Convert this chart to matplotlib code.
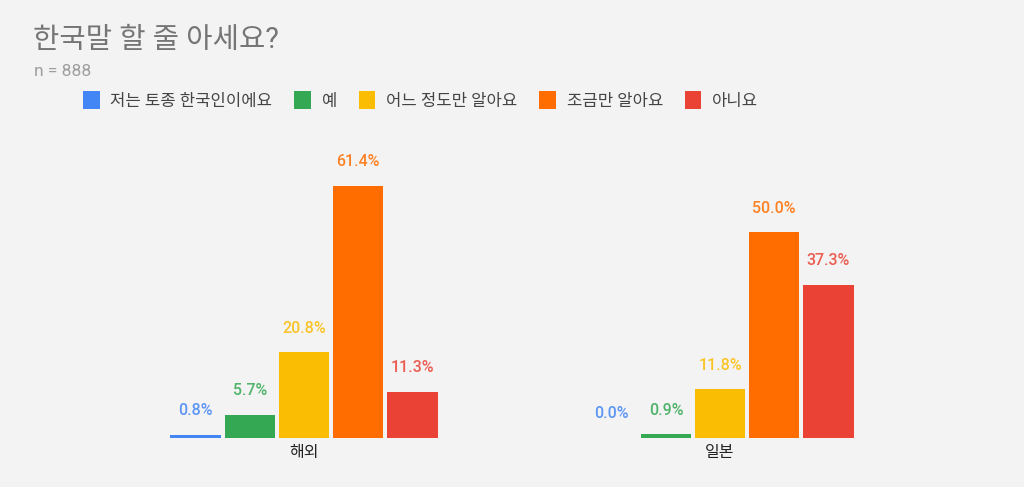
import numpy as np
import matplotlib
matplotlib.use("Agg")
import matplotlib.pyplot as plt
from matplotlib.patches import Patch

plt.rcParams['font.family'] = ['Roboto', 'Noto Sans CJK KR', 'DejaVu Sans']

# data
groups = ['해외', '일본']
series = ['저는 토종 한국인이에요', '예', '어느 정도만 알아요', '조금만 알아요', '아니요']
values = [
    [0.8, 0.0],
    [5.7, 0.9],
    [20.8, 11.8],
    [61.4, 50.0],
    [11.3, 37.3],
]
colors = ['#4285f4', '#34a853', '#fbbc04', '#ff6d01', '#ea4335']

bg = '#f3f3f3'
fig = plt.figure(figsize=(10.24, 4.87), dpi=100, facecolor=bg)
ax = fig.add_axes([0.09375, 0.1006, 0.8125, 0.591], facecolor=bg)

x = np.arange(len(groups))
step = 0.13
w = 0.122
for i, (name, vals, c) in enumerate(zip(series, values, colors)):
    pos = x + (i - 2) * step
    ax.bar(pos, vals, width=w, color=c, linewidth=0)
    for px, v in zip(pos, vals):
        ax.annotate(f'{v:.1f}%', (px, v), xytext=(0, 17.5), textcoords='offset points',
                    ha='center', va='center', fontsize=11.5, color=c, alpha=0.85,
                    fontweight='medium')

ax.set_xlim(-0.5, 1.5)
ax.set_ylim(0, 70)
ax.set_xticks(x)
ax.set_xticklabels(groups, fontsize=11.5, color='#222222')
ax.set_yticks([])
ax.tick_params(axis='x', length=0, pad=5)
for s in ax.spines.values():
    s.set_visible(False)

fig.text(33 / 1024, 1 - 40 / 487, '한국말 할 줄 아세요?', fontsize=20.6, color='#757575',
         ha='left', va='center')
fig.text(34 / 1024, 1 - 72 / 487, 'n = 888', fontsize=12.5, color='#9e9e9e',
         ha='left', va='center')

handles = [Patch(facecolor=c, edgecolor='none') for c in colors]
fig.legend(handles, series, loc='center left', bbox_to_anchor=(68 / 1024, 1 - 100 / 487),
           ncol=5, frameon=False, fontsize=12, handlelength=1.0, handleheight=1.25,
           handletextpad=0.65, columnspacing=1.3, labelcolor='#444444')

fig.savefig('out.png', dpi=100, facecolor=bg)
